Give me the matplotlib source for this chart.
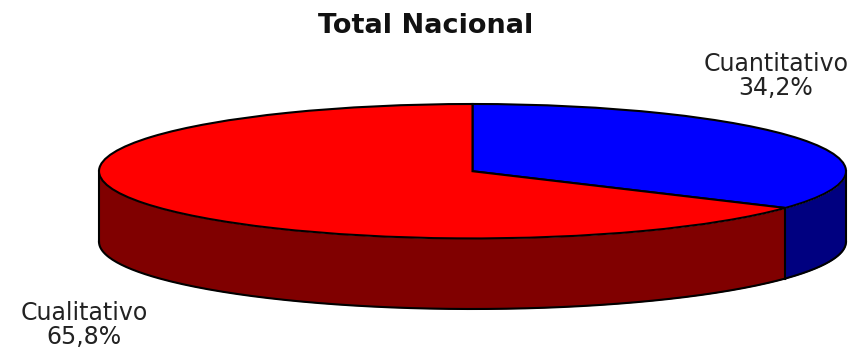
import numpy as np
import matplotlib
matplotlib.use("Agg")
import matplotlib.pyplot as plt

labels = ["Cuantitativo", "Cualitativo"]
values = [34.2, 65.8]
value_labels = ["34,2%", "65,8%"]
top_colors = ["#0000ff", "#ff0000"]
side_colors = ["#000080", "#800000"]

W, H = 858, 349
depth = 1.05

fig = plt.figure(figsize=(W / 100, H / 100), dpi=100)
# axes spans the ellipse plus the side wall
ax = fig.add_axes([99 / W, 1 - 309 / H, 747 / W, 205 / H])

ax.pie(values, colors=top_colors, startangle=90, counterclock=False, radius=1,
       wedgeprops=dict(edgecolor="black", linewidth=1.5, zorder=3))
ax.set_aspect("auto")
ax.set_xlim(-1, 1)
ax.set_ylim(-1 - depth, 1)

# side wall, only the front half of the ellipse shows
edges = np.cumsum([0] + values) / 100 * 2 * np.pi
for i in range(2):
    a0 = max(edges[i], np.pi / 2)
    a1 = min(edges[i + 1], 3 * np.pi / 2)
    t = np.linspace(a0, a1, 200)
    x = np.sin(t)
    y = np.cos(t)
    ax.fill_between(x, y - depth, y, color=side_colors[i], linewidth=0, zorder=1)
    ax.plot(x, y - depth, color="black", lw=1.5, zorder=2, clip_on=False)

# vertical edges of the wall
split = edges[1]
for a in [np.pi / 2, split, 3 * np.pi / 2]:
    ax.plot([np.sin(a)] * 2, [np.cos(a), np.cos(a) - depth], color="black", lw=1.5,
            zorder=2, clip_on=False)

# the source text is stretched sideways, so a wide face at a larger size is closest
fig.text(426 / W, 1 - 26 / H, "Total Nacional", family="DejaVu Sans", weight="bold",
         fontsize=19.5, ha="center", va="center", color="#111111")
fig.text(776 / W, 1 - 76 / H, labels[0] + "\n" + value_labels[0], family="DejaVu Sans",
         fontsize=17, ha="center", va="center", color="#222222", linespacing=1.03)
fig.text(84 / W, 1 - 325 / H, labels[1] + "\n" + value_labels[1], family="DejaVu Sans",
         fontsize=17, ha="center", va="center", color="#222222", linespacing=1.03)

fig.savefig("out.png", dpi=100)
